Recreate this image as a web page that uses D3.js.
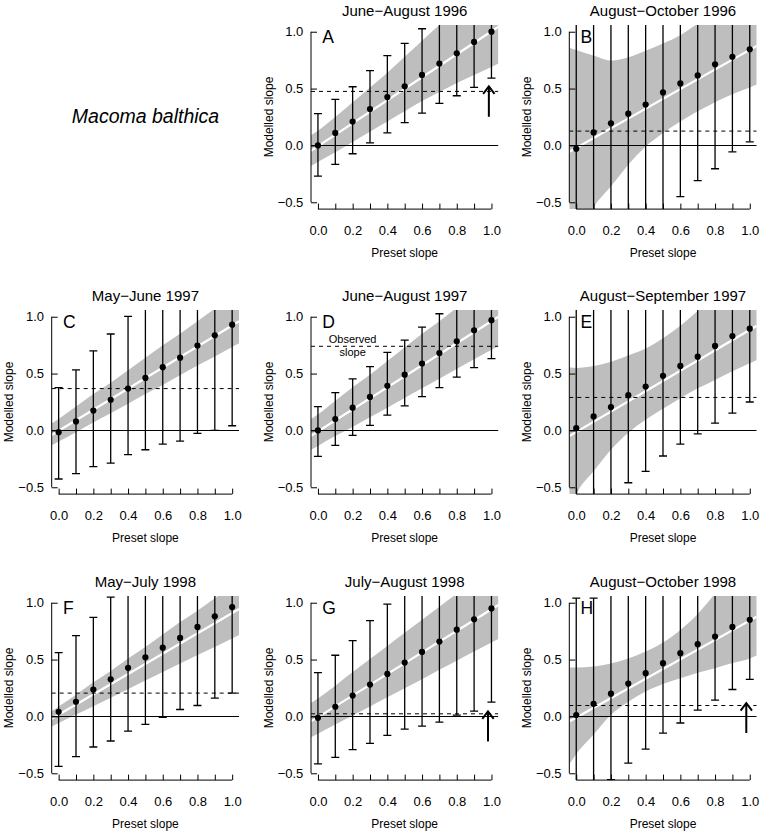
<!DOCTYPE html>
<html><head><meta charset="utf-8">
<script src="https://cdn.jsdelivr.net/npm/d3@7"></script>
<style>
body{margin:0;background:#fff;}
text{font-family:"Liberation Sans",Arial,Helvetica,sans-serif;fill:#000;}
</style></head><body>
<svg id="chart" width="762" height="834"></svg>
<script>
// ---------------- data ----------------
const speciesName = "Macoma balthica";
const letters = ["A","B","C","D","E","F","G","H"];
const titles = ["June−August 1996","August−October 1996","May−June 1997","June−August 1997",
  "August−September 1997","May−July 1998","July−August 1998","August−October 1998"];
const presetSlope = [0,0.1,0.2,0.3,0.4,0.5,0.6,0.7,0.8,0.9,1.0];
const xTickLabels = ["0.0","","0.2","","0.4","","0.6","","0.8","","1.0"];
const yTickValues = [-0.5,0,0.5,1.0];
const yTickLabels = ["−0.5","0.0","0.5","1.0"];
const xTitle = "Preset slope";
const yTitle = "Modelled slope";

const observedSlope = [0.475,0.126,0.368,0.74,0.29,0.205,0.023,0.096];

const modelledMean = [
  [0.0,0.11,0.21,0.32,0.425,0.52,0.62,0.72,0.81,0.91,1.0],
  [-0.03,0.114,0.194,0.279,0.36,0.466,0.545,0.616,0.713,0.78,0.845],
  [-0.015,0.079,0.175,0.27,0.368,0.462,0.556,0.64,0.746,0.836,0.93],
  [0.0,0.1,0.2,0.295,0.392,0.49,0.588,0.68,0.784,0.88,0.97],
  [0.02,0.123,0.205,0.31,0.386,0.48,0.567,0.649,0.743,0.83,0.895],
  [0.041,0.129,0.237,0.327,0.427,0.52,0.605,0.69,0.787,0.88,0.962],
  [-0.012,0.085,0.184,0.28,0.374,0.474,0.567,0.658,0.763,0.854,0.95],
  [0.012,0.111,0.2,0.289,0.38,0.468,0.556,0.635,0.702,0.787,0.85]
];
const modelledLow = [
  [-0.27,-0.167,-0.073,0.023,0.111,0.2,0.284,0.37,0.437,0.51,0.592],
  [-1.3,-1.2,-1.1,-0.95,-0.85,-0.7,-0.45,-0.31,-0.205,-0.056,0.032],
  [-0.427,-0.38,-0.319,-0.287,-0.213,-0.17,-0.12,-0.094,-0.026,0.0,0.041],
  [-0.228,-0.132,-0.044,0.044,0.134,0.216,0.298,0.377,0.468,0.553,0.632],
  [-1.1,-0.9,-0.75,-0.46,-0.36,-0.225,-0.12,-0.03,0.064,0.152,0.25],
  [-0.44,-0.354,-0.269,-0.216,-0.13,-0.07,-0.009,0.061,0.096,0.161,0.205],
  [-0.418,-0.36,-0.292,-0.237,-0.167,-0.111,-0.085,-0.05,0.012,0.047,0.126],
  [-0.95,-0.8,-0.555,-0.41,-0.287,-0.146,-0.058,0.056,0.143,0.237,0.325]
];
const modelledHigh = [
  [0.28,0.405,0.516,0.657,0.789,0.897,1.026,1.15,1.25,1.35,1.45],
  [1.3,1.35,1.4,1.45,1.5,1.55,1.6,1.6,1.65,1.7,1.75],
  [0.377,0.532,0.699,0.848,1.003,1.12,1.2,1.3,1.4,1.5,1.6],
  [0.21,0.333,0.453,0.561,0.687,0.795,0.909,1.026,1.12,1.2,1.3],
  [1.4,1.45,1.5,1.5,1.55,1.6,1.6,1.65,1.7,1.7,1.75],
  [0.561,0.71,0.871,1.05,1.15,1.2,1.3,1.4,1.5,1.6,1.7],
  [0.386,0.538,0.667,0.842,0.988,1.12,1.2,1.3,1.4,1.5,1.6],
  [1.04,1.04,1.2,1.3,1.4,1.5,1.5,1.6,1.6,1.7,1.7]
];

const bandX = [-0.04,0,0.1,0.2,0.3,0.4,0.5,0.6,0.7,0.8,0.9,1.0,1.04];
const bandLow = [
  [-0.18,-0.145,-0.06,0.03,0.12,0.21,0.30,0.39,0.47,0.55,0.62,0.69,0.72],
  [-0.95,-0.8,-0.54,-0.36,-0.17,-0.01,0.11,0.21,0.30,0.38,0.45,0.51,0.535],
  [-0.13,-0.097,-0.015,0.07,0.15,0.235,0.32,0.40,0.485,0.57,0.65,0.733,0.766],
  [-0.17,-0.136,-0.05,0.03,0.115,0.2,0.285,0.37,0.455,0.54,0.625,0.71,0.74],
  [-0.7,-0.56,-0.36,-0.17,-0.02,0.094,0.19,0.284,0.37,0.444,0.52,0.59,0.62],
  [-0.088,-0.058,0.016,0.09,0.165,0.24,0.315,0.39,0.465,0.54,0.61,0.686,0.716],
  [-0.184,-0.152,-0.072,0.008,0.088,0.168,0.248,0.328,0.41,0.49,0.57,0.65,0.68],
  [-0.42,-0.33,-0.16,0.015,0.13,0.22,0.285,0.336,0.385,0.424,0.47,0.51,0.535]
];
const bandHigh = [
  [0.09,0.13,0.25,0.38,0.51,0.64,0.78,0.92,1.06,1.19,1.32,1.45,1.5],
  [0.86,0.84,0.79,0.745,0.775,0.833,0.897,0.97,1.07,1.15,1.24,1.33,1.37],
  [0.06,0.10,0.21,0.32,0.42,0.53,0.64,0.75,0.85,0.96,1.07,1.17,1.21],
  [0.10,0.14,0.26,0.38,0.49,0.61,0.73,0.85,0.96,1.08,1.2,1.31,1.36],
  [0.555,0.55,0.567,0.605,0.66,0.72,0.81,0.92,1.05,1.17,1.29,1.4,1.45],
  [0.045,0.087,0.19,0.30,0.40,0.51,0.61,0.72,0.83,0.93,1.04,1.14,1.18],
  [0.117,0.158,0.27,0.39,0.505,0.62,0.735,0.85,0.965,1.08,1.195,1.31,1.36],
  [0.43,0.43,0.44,0.465,0.51,0.57,0.65,0.76,0.9,1.08,1.25,1.42,1.48]
];

const fitX = [-0.04,1.04];
const fitY = [
  [-0.047,1.044],[-0.056,0.875],[-0.04,0.96],[-0.047,1.0],
  [-0.05,0.92],[-0.02,0.945],[-0.044,0.98],[-0.044,0.877]
];

const arrowPanels = ["A","G","H"];
const arrowX = [0.985,0.98,0.98];
const arrowFrom = [0.252,-0.22,-0.146];
const arrowTo = [0.52,0.044,0.117];

const notePanel = "D";
const noteLines = ["Observed","slope"];
const noteX = 0.2;
const noteY = [0.77,0.658];

// ---------------- layout ----------------
const svg = d3.select("#chart");
svg.append("rect").attr("width",762).attr("height",834).attr("fill","#fff");
const colLeft = [51.7,311,569.3], rowTop = [24.9,309.9,595.9];
const W = 187.4, H = 184.2;
const x = d3.scaleLinear().domain([-0.04,1.04]).range([0,W]);
const y = d3.scaleLinear().domain([-0.56,1.06]).range([H,0]);

svg.append("text").attr("x",145.5).attr("y",123).attr("text-anchor","middle")
  .attr("font-size",19.5).attr("font-style","italic").text(speciesName);

letters.forEach((L,i)=>{
  const slot=i+1, r=Math.floor(slot/3), c=slot%3;
  const g = svg.append("g").attr("transform",`translate(${colLeft[c]},${rowTop[r]})`);
  const clipId = "clip"+i;
  g.append("clipPath").attr("id",clipId).append("rect").attr("width",W).attr("height",H);
  const plot = g.append("g").attr("clip-path",`url(#${clipId})`);

  const area = d3.area()
    .x((d,j)=>x(bandX[j])).y0((d,j)=>y(bandLow[i][j])).y1((d,j)=>y(bandHigh[i][j]))
    .curve(d3.curveMonotoneX);
  plot.append("path").datum(bandX).attr("d",area).attr("fill","#bebebe");

  plot.append("line").attr("x1",x(fitX[0])).attr("x2",x(fitX[1]))
    .attr("y1",y(fitY[i][0])).attr("y2",y(fitY[i][1]))
    .attr("stroke","#fff").attr("stroke-width",2.2);

  plot.append("line").attr("x1",0).attr("x2",W).attr("y1",y(0)).attr("y2",y(0))
    .attr("stroke","#000").attr("stroke-width",1.1);
  plot.append("line").attr("x1",0).attr("x2",W).attr("y1",y(observedSlope[i])).attr("y2",y(observedSlope[i]))
    .attr("stroke","#000").attr("stroke-width",1).attr("stroke-dasharray","4,4");

  const bars = plot.append("g").attr("stroke","#000").attr("stroke-width",1.3);
  presetSlope.forEach((p,j)=>{
    const px=x(p), lo=y(modelledLow[i][j]), hi=y(modelledHigh[i][j]);
    bars.append("line").attr("x1",px).attr("x2",px).attr("y1",lo).attr("y2",hi);
    bars.append("line").attr("x1",px-4).attr("x2",px+4).attr("y1",lo).attr("y2",lo);
    bars.append("line").attr("x1",px-4).attr("x2",px+4).attr("y1",hi).attr("y2",hi);
  });
  plot.selectAll("circle.pt").data(modelledMean[i]).enter().append("circle")
    .attr("cx",(d,j)=>x(presetSlope[j])).attr("cy",d=>y(d)).attr("r",3.1).attr("fill","#000");

  const ai = arrowPanels.indexOf(L);
  if(ai>=0){
    const ax=x(arrowX[ai]), y0=y(arrowFrom[ai]), y1=y(arrowTo[ai]);
    g.append("line").attr("x1",ax).attr("x2",ax).attr("y1",y0).attr("y2",y1)
      .attr("stroke","#000").attr("stroke-width",2);
    g.append("path").attr("d",`M${ax-5.7},${y1+7.5}L${ax},${y1}L${ax+5.7},${y1+7.5}`)
      .attr("fill","none").attr("stroke","#000").attr("stroke-width",2);
  }
  if(L===notePanel){
    noteLines.forEach((t,k)=>g.append("text").attr("x",x(noteX)).attr("y",y(noteY[k]))
      .attr("text-anchor","middle").attr("font-size",11).text(t));
  }

  g.append("text").attr("x",x(0.025)).attr("y",y(0.905)).attr("font-size",17.5).text(L);

  // axes
  const xa = g.append("g").attr("transform",`translate(0,${H})`)
    .call(d3.axisBottom(x).tickValues(presetSlope).tickSize(-5.5).tickPadding(16.8)
      .tickFormat((d,j)=>xTickLabels[j]));
  xa.select(".domain").remove();
  xa.append("line").attr("x1",x(presetSlope[0])).attr("x2",x(presetSlope[presetSlope.length-1]))
    .attr("stroke","#000");
  xa.selectAll("text").attr("font-size",13).attr("font-family",null);
  xa.selectAll(".tick line").attr("stroke","#000");

  const ya = g.append("g")
    .call(d3.axisLeft(y).tickValues(yTickValues).tickSize(-6).tickPadding(7.7)
      .tickFormat((d,j)=>yTickLabels[j]));
  ya.select(".domain").remove();
  ya.append("line").attr("y1",y(yTickValues[0])).attr("y2",y(yTickValues[yTickValues.length-1]))
    .attr("stroke","#000");
  ya.selectAll("text").attr("font-size",13).attr("font-family",null);
  ya.selectAll(".tick line").attr("stroke","#000");

  g.append("text").attr("x",W/2).attr("y",H+48).attr("text-anchor","middle")
    .attr("font-size",12).text(xTitle);
  g.append("text").attr("transform",`translate(-42.7,${H/2}) rotate(-90)`)
    .attr("dy","0.35em").attr("text-anchor","middle").attr("font-size",12).text(yTitle);
  g.append("text").attr("x",W/2).attr("y",-14.4).attr("dy","0.35em").attr("text-anchor","middle")
    .attr("font-size",15).text(titles[i]);
});
</script>
</body></html>
